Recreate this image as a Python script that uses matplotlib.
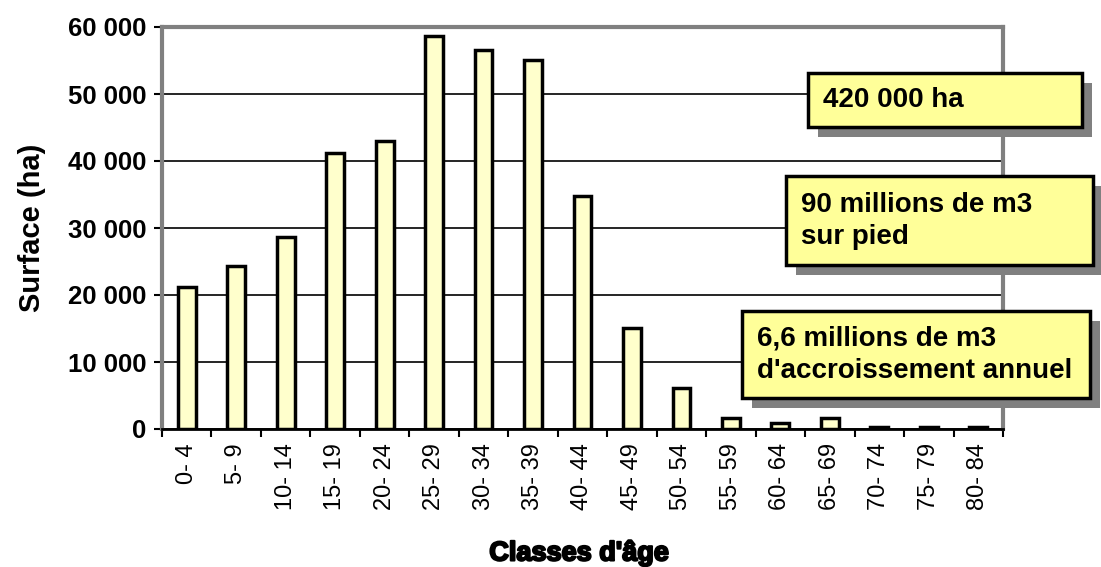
import numpy as np
import matplotlib
matplotlib.use("Agg")
import matplotlib.pyplot as plt
import matplotlib.patheffects as pe
from matplotlib.patches import Rectangle

plt.rcParams['font.family'] = ['Liberation Sans', 'DejaVu Sans']

# données
classes = ["0- 4", "5- 9", "10- 14", "15- 19", "20- 24", "25- 29", "30- 34",
           "35- 39", "40- 44", "45- 49", "50- 54", "55- 59", "60- 64",
           "65- 69", "70- 74", "75- 79", "80- 84"]
surface = [21200, 24300, 28700, 41200, 43000, 58700, 56600, 55100, 34800,
           15100, 6100, 1600, 900, 1600, 300, 300, 300]
yticks = [0, 10000, 20000, 30000, 40000, 50000, 60000]
ytick_labels = ["0", "10 000", "20 000", "30 000", "40 000", "50 000", "60 000"]
boxes = [
    ("420 000 ha", (808, 73, 1082, 127)),
    ("90 millions de m3\nsur pied", (786, 176, 1093, 265)),
    ("6,6 millions de m3\nd'accroissement annuel", (742, 311, 1090, 398)),
]

W, H = 1101, 567
fig = plt.figure(figsize=(W / 100, H / 100), dpi=100)
ax = fig.add_axes([162 / W, 1 - 429 / H, (1003 - 162) / W, (429 - 27) / H])

x = np.arange(len(classes))
ax.bar(x, surface, width=0.36, color="#FFFFCC", edgecolor="black",
       linewidth=2.5, zorder=3)

ax.set_xlim(-0.5, len(classes) - 0.5)
ax.set_ylim(0, 60000)
ax.set_yticks(yticks)
ax.set_yticklabels(ytick_labels, fontweight="bold", fontsize=18.5)
ax.set_xticks(x)
ax.set_xticklabels(classes, rotation=90, fontsize=17)
ax.set_xticks(np.arange(-0.5, len(classes), 1), minor=True)
ax.tick_params(axis="x", which="major", length=0, pad=10)
ax.tick_params(axis="x", which="minor", length=6, width=1.5, direction="out")
ax.tick_params(axis="y", length=6, width=1.5, direction="out", pad=5)

ax.grid(axis="y", color="black", linewidth=1.2, zorder=0)
ax.set_axisbelow(True)
for s in ["left", "top", "right"]:
    ax.spines[s].set_color("#808080")
    ax.spines[s].set_linewidth(3)
ax.spines["bottom"].set_color("black")
ax.spines["bottom"].set_linewidth(2)

ax.set_ylabel("Surface (ha)", fontsize=21, fontweight="bold", labelpad=16)
fig.text(579 / W, 1 - 553 / H, "Classes d'âge", fontsize=19.5, fontweight="bold",
         ha="center", va="center",
         path_effects=[pe.withStroke(linewidth=1.5, foreground="black")])

# encadrés jaunes avec ombre
def fx(px):
    return px / W

def fy(py):
    return 1 - py / H

for txt, (x0, y0, x1, y1) in boxes:
    sh = Rectangle((fx(x0 + 10), fy(y1 + 10)), (x1 - x0) / W, (y1 - y0) / H,
                   transform=fig.transFigure, facecolor="#808080",
                   edgecolor="none", zorder=5)
    bx = Rectangle((fx(x0), fy(y1)), (x1 - x0) / W, (y1 - y0) / H,
                   transform=fig.transFigure, facecolor="#FFFF99",
                   edgecolor="black", linewidth=2.5, zorder=6)
    fig.add_artist(sh)
    fig.add_artist(bx)
    fig.text(fx(x0 + 15), fy((y0 + y1) / 2), txt, fontsize=20,
             fontweight="bold", ha="left", va="center", linespacing=1.3,
             zorder=7)

fig.savefig("out.png", dpi=100)
